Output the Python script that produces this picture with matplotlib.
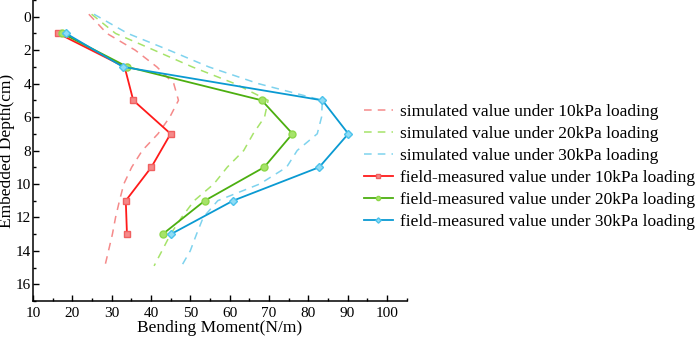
import numpy as np
import matplotlib.pyplot as plt
from matplotlib.ticker import MultipleLocator

plt.rcParams['font.family'] = ['Liberation Serif', 'DejaVu Serif']

# simulated curves (dashed)
sim_depth = [-0.15, 1, 2, 3, 4, 5, 6, 7, 8, 9, 10, 11, 12, 13, 14, 14.9]
sim_10 = [24.2, 28.8, 36.0, 41.5, 45.8, 47.0, 44.8, 41.8, 37.8, 35.1, 33.1, 32.0, 31.0, 30.2, 29.2, 28.3]
sim_20 = [24.9, 31.0, 40.8, 50.5, 61.3, 69.8, 68.9, 66.0, 63.6, 59.4, 56.0, 51.0, 47.8, 45.0, 42.8, 40.8]
sim_30 = [25.5, 34.1, 44.6, 54.7, 67.3, 83.6, 83.4, 82.3, 77.2, 74.5, 67.7, 57.0, 53.3, 51.6, 50.0, 47.8]

# field-measured points
field_depth = [1, 3, 5, 7, 9, 11, 13]
field_10 = [16.4, 33.3, 35.5, 45.0, 40.1, 33.6, 33.9]
field_20 = [17.5, 34.0, 68.2, 76.0, 68.8, 53.7, 43.0]
field_30 = [18.4, 32.9, 83.6, 90.2, 82.8, 60.9, 45.1]

fig = plt.figure(figsize=(6.99, 3.38), dpi=100)
ax = fig.add_axes([33 / 699, 37 / 338, 373.5 / 699, 1 - 37 / 338])

dash = (0, (5, 4))
ax.plot(sim_10, sim_depth, color='#f58a8a', lw=1.1, ls=dash, label='simulated value under 10kPa loading')
ax.plot(sim_20, sim_depth, color='#a6e36a', lw=1.1, ls=dash, label='simulated value under 20kPa loading')
ax.plot(sim_30, sim_depth, color='#7fd3ee', lw=1.1, ls=dash, label='simulated value under 30kPa loading')

ax.plot(field_10, field_depth, color='#ff1a1a', lw=1.3, marker='s', ms=5,
        mfc='#f58a8a', mec='#f06060', mew=1, label='field-measured value under 10kPa loading')
ax.plot(field_20, field_depth, color='#4caf10', lw=1.3, marker='o', ms=5,
        mfc='#a6e36a', mec='#8ed84a', mew=1, label='field-measured value under 20kPa loading')
ax.plot(field_30, field_depth, color='#0a9ad2', lw=1.3, marker='D', ms=4.5,
        mfc='#8fdcf5', mec='#4cc3ec', mew=1, label='field-measured value under 30kPa loading')

ax.set_xlim(10, 105)
ax.set_ylim(17, -1)
ax.xaxis.set_major_locator(MultipleLocator(10))
ax.xaxis.set_minor_locator(MultipleLocator(5))
ax.yaxis.set_minor_locator(MultipleLocator(1))
ax.set_yticks(range(0, 17, 2))
ax.tick_params(which='both', direction='in', labelsize=11, width=1, top=False, right=False)
ax.tick_params(which='major', length=4)
ax.tick_params(which='minor', length=2.5)
ax.tick_params(axis='x', pad=4)
ax.tick_params(axis='y', pad=1.5)
for s in ['top', 'right']:
    ax.spines[s].set_visible(False)
for s in ['left', 'bottom']:
    ax.spines[s].set_linewidth(1.1)

ax.set_xlabel('Bending Moment(N/m)', fontsize=12.5)
ax.xaxis.set_label_coords(0.5, -0.062)
ax.set_ylabel('Embedded Depth(cm)', fontsize=12.5)
ax.yaxis.set_label_coords(-0.047, 0.5)

ax.legend(loc='center left', bbox_to_anchor=(364 / 699, 1 - 167 / 338), bbox_transform=fig.transFigure,
          frameon=False, fontsize=12.5, handlelength=1.65, handletextpad=0.45, labelspacing=0.34,
          borderaxespad=0, borderpad=0, markerscale=0.6)

fig.savefig('out.png', dpi=100)
